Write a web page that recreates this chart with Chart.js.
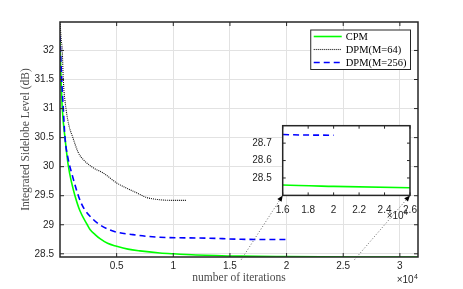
<!DOCTYPE html>
<html>
<head>
<meta charset="utf-8">
<script src="https://cdn.jsdelivr.net/npm/chart.js@4"></script>
<style>
  html, body { margin: 0; padding: 0; background: #fff; }
  #wrap { position: relative; width: 463px; height: 289px; }
  #wrap canvas { position: absolute; left: 0; top: 0; }
</style>
</head>
<body>
<div id="wrap">
  <canvas id="mainChart" width="463" height="289"></canvas>
  <canvas id="insetChart" width="463" height="289"></canvas>
</div>
<script>
// data (iterations, ISL in dB)
const itersCPM = [0, 80, 200, 440, 730, 1030, 1320, 1760, 2410, 2650, 3100, 3530, 4200, 5000, 6000, 7050, 8820, 10000, 12000, 16000, 20000, 26000, 31600];
const islCPM = [32.15, 31.6, 31.0, 30.5, 30.02, 29.72, 29.5, 29.24, 29.0, 28.92, 28.83, 28.76, 28.68, 28.63, 28.58, 28.55, 28.515, 28.5, 28.48, 28.46, 28.452, 28.444, 28.442];

const itersDPM64 = [0, 100, 200, 290, 530, 800, 1100, 1620, 2060, 2940, 3820, 5000, 5880, 6760, 7640, 8820, 10000, 11170];
const islDPM64 = [32.49, 32.2, 32.0, 31.5, 31.0, 30.7, 30.52, 30.24, 30.12, 29.98, 29.89, 29.72, 29.63, 29.55, 29.47, 29.43, 29.42, 29.42];

const itersDPM256 = [0, 50, 150, 290, 440, 700, 1030, 1850, 2940, 4400, 6440, 8820, 12900, 16000, 20000];
const islDPM256 = [32.25, 32.0, 31.5, 31.0, 30.5, 30.15, 29.89, 29.38, 29.09, 28.91, 28.83, 28.785, 28.77, 28.75, 28.745];

const mainXTicks = [5000, 10000, 15000, 20000, 25000, 30000];
const mainYTicks = [28.5, 29, 29.5, 30, 30.5, 31, 31.5, 32];
const insetXTicks = [16000, 18000, 20000, 22000, 24000, 26000];
const insetYTicks = [28.5, 28.6, 28.7];

const axisColor = '#262626';
const tickFont = { family: '"Liberation Sans", Arial, sans-serif', size: 10 };
const serif = '"Liberation Serif", "Times New Roman", serif';

function toPoints(xs, ys) {
  return xs.map((x, i) => ({ x: x, y: ys[i] }));
}

function makeDatasets() {
  const common = { pointRadius: 0, fill: false, cubicInterpolationMode: 'monotone' };
  return [
    Object.assign({ label: 'CPM', data: toPoints(itersCPM, islCPM), borderColor: '#00ff00', borderWidth: 1.6, borderDash: [], order: 3 }, common),
    Object.assign({ label: 'DPM(M=64)', data: toPoints(itersDPM64, islDPM64), borderColor: '#111111', borderWidth: 1.1, borderDash: [1, 1], order: 2 }, common),
    Object.assign({ label: 'DPM(M=256)', data: toPoints(itersDPM256, islDPM256), borderColor: '#0000ff', borderWidth: 1.6, borderDash: [6, 4], order: 1 }, common)
  ];
}

// box + inward ticks (matlab style)
function makeFrame(tickLen, whiteFill) {
  return {
    id: 'frame',
    beforeDraw(chart) {
      if (!whiteFill) return;
      const { ctx, chartArea: a } = chart;
      ctx.save();
      ctx.fillStyle = '#fff';
      ctx.fillRect(a.left, a.top, a.width, a.height);
      ctx.restore();
    },
    afterDatasetsDraw(chart) {
      const { ctx, chartArea: a, scales: { x, y } } = chart;
      ctx.save();
      ctx.strokeStyle = axisColor;
      ctx.lineWidth = 1;
      ctx.beginPath();
      x.ticks.forEach(t => {
        const px = x.getPixelForValue(t.value);
        ctx.moveTo(px, a.bottom); ctx.lineTo(px, a.bottom - tickLen);
        ctx.moveTo(px, a.top); ctx.lineTo(px, a.top + tickLen);
      });
      y.ticks.forEach(t => {
        const py = y.getPixelForValue(t.value);
        ctx.moveTo(a.left, py); ctx.lineTo(a.left + tickLen, py);
        ctx.moveTo(a.right, py); ctx.lineTo(a.right - tickLen, py);
      });
      ctx.stroke();
      ctx.lineWidth = 1.5;
      ctx.strokeRect(a.left, a.top, a.width, a.height);
      ctx.restore();
    }
  };
}

function drawExponent(ctx, right, base) {
  ctx.save();
  ctx.fillStyle = axisColor;
  ctx.textAlign = 'right';
  ctx.textBaseline = 'alphabetic';
  ctx.font = '7px "Liberation Sans", Arial, sans-serif';
  const w4 = ctx.measureText('4').width;
  ctx.fillText('4', right, base - 4.5);
  ctx.font = '10px "Liberation Sans", Arial, sans-serif';
  ctx.fillText('\u00d710', right - w4 - 0.5, base);
  ctx.restore();
}

const mainLabels = {
  id: 'mainLabels',
  afterDraw(chart) {
    const { ctx, chartArea: a } = chart;
    ctx.save();
    ctx.fillStyle = '#4a4a4a';
    ctx.font = '11.5px ' + serif;
    ctx.textAlign = 'center';
    ctx.textBaseline = 'alphabetic';
    ctx.fillText('number of iterations', (a.left + a.right) / 2, a.bottom + 24);
    ctx.translate(29, (a.top + a.bottom) / 2);
    ctx.rotate(-Math.PI / 2);
    ctx.fillText('Integrated Sidelobe Level (dB)', 0, 0);
    ctx.restore();
    drawExponent(ctx, a.right, a.bottom + 26);

    // legend
    const items = chart.data.datasets;
    ctx.save();
    ctx.font = '10.5px ' + serif;
    const textW = Math.max(...items.map(d => ctx.measureText(d.label).width));
    const w = 35 + textW + 4, rowH = 13, h = rowH * items.length + 0.5;
    const right = a.right - 7.5, top = a.top + 8, left = right - w;
    ctx.fillStyle = '#fff';
    ctx.fillRect(left, top, w, h);
    ctx.strokeStyle = axisColor;
    ctx.lineWidth = 1;
    ctx.strokeRect(left, top, w, h);
    items.forEach((d, i) => {
      const yy = top + 6.5 + rowH * i;
      ctx.beginPath();
      ctx.setLineDash(d.borderDash);
      ctx.strokeStyle = d.borderColor;
      ctx.lineWidth = d.borderWidth;
      ctx.moveTo(left + 3, yy);
      ctx.lineTo(left + 31, yy);
      ctx.stroke();
      ctx.setLineDash([]);
      ctx.fillStyle = '#000';
      ctx.textAlign = 'left';
      ctx.textBaseline = 'middle';
      ctx.fillText(d.label, left + 35, yy + 0.5);
    });
    ctx.restore();
  }
};

const mainChart = new Chart(document.getElementById('mainChart'), {
  type: 'line',
  data: { datasets: makeDatasets() },
  options: {
    responsive: false,
    animation: false,
    layout: { padding: { left: 0, top: 22, right: 45, bottom: 0 } },
    plugins: { legend: { display: false }, tooltip: { enabled: false } },
    scales: {
      x: {
        type: 'linear', min: 0, max: 31600,
        afterBuildTicks: s => { s.ticks = mainXTicks.map(v => ({ value: v })); },
        afterFit: s => { s.height = 32; },
        grid: { color: '#e2e2e2', drawTicks: false },
        border: { display: false },
        ticks: { padding: 3, color: axisColor, font: tickFont, autoSkip: false, maxRotation: 0, callback: v => String(v / 1e4) }
      },
      y: {
        type: 'linear', min: 28.445, max: 32.49,
        afterBuildTicks: s => { s.ticks = mainYTicks.map(v => ({ value: v })); },
        afterFit: s => { s.width = 60; },
        grid: { color: '#e2e2e2', drawTicks: false },
        border: { display: false },
        ticks: { padding: 6, color: axisColor, font: tickFont, autoSkip: false, callback: v => String(v) }
      }
    }
  },
  plugins: [makeFrame(4, false), mainLabels]
});

// dotted arrows from the main axes to the inset corners + inset exponent
const insetExtras = {
  id: 'insetExtras',
  afterDraw(chart) {
    const { ctx, chartArea: a, scales: { x, y } } = chart;
    const mx = mainChart.scales.x, my = mainChart.scales.y;
    drawExponent(ctx, a.right - 2, a.bottom + 24);
    [[16000, a.left], [26000, a.right]].forEach(([v, cx]) => {
      const sx = mx.getPixelForValue(v), sy = my.getPixelForValue(28.4);
      const ex = cx, ey = y.getPixelForValue(28.4);
      const ang = Math.atan2(ey - sy, ex - sx);
      ctx.save();
      ctx.strokeStyle = '#444';
      ctx.lineWidth = 0.8;
      ctx.setLineDash([1, 2]);
      ctx.beginPath();
      ctx.moveTo(sx, sy);
      ctx.lineTo(ex - 5 * Math.cos(ang), ey - 5 * Math.sin(ang));
      ctx.stroke();
      ctx.setLineDash([]);
      ctx.fillStyle = '#000';
      ctx.translate(ex, ey);
      ctx.rotate(ang);
      ctx.beginPath();
      ctx.moveTo(0, 0);
      ctx.lineTo(-6, -2.5);
      ctx.lineTo(-6, 2.5);
      ctx.closePath();
      ctx.fill();
      ctx.restore();
    });
  }
};

const insetChart = new Chart(document.getElementById('insetChart'), {
  type: 'line',
  data: { datasets: makeDatasets() },
  options: {
    responsive: false,
    animation: false,
    layout: { padding: { left: 252.7, top: 125.7, right: 53, bottom: 73.6 } },
    plugins: { legend: { display: false }, tooltip: { enabled: false } },
    scales: {
      x: {
        type: 'linear', min: 16000, max: 26000,
        afterBuildTicks: s => { s.ticks = insetXTicks.map(v => ({ value: v })); },
        afterFit: s => { s.height = 20; },
        grid: { display: false },
        border: { display: false },
        ticks: { padding: 1, color: axisColor, font: tickFont, autoSkip: false, maxRotation: 0, callback: v => String(v / 1e4) }
      },
      y: {
        type: 'linear', min: 28.4, max: 28.8,
        afterBuildTicks: s => { s.ticks = insetYTicks.map(v => ({ value: v })); },
        afterFit: s => { s.width = 30; },
        grid: { display: false },
        border: { display: false },
        ticks: { padding: 3, color: axisColor, font: tickFont, autoSkip: false, callback: v => v.toFixed(1) }
      }
    }
  },
  plugins: [makeFrame(3, true), insetExtras]
});
</script>
</body>
</html>
